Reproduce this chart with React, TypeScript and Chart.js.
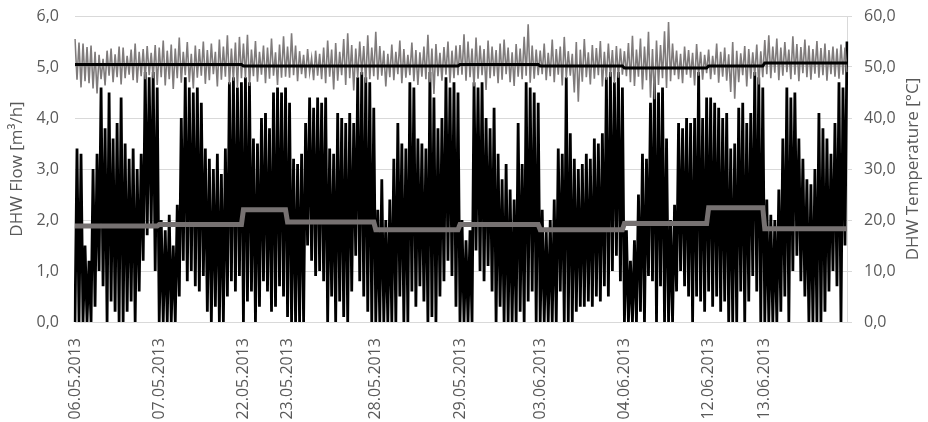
import React, { useEffect, useRef } from 'react';
import { Chart, registerables } from 'chart.js';

Chart.register(...registerables);

// Day labels shown on the category axis (first sample of each day)
const dayLabels = ['06.05.2013', '07.05.2013', '22.05.2013', '23.05.2013', '28.05.2013',
  '29.05.2013', '03.06.2013', '04.06.2013', '12.06.2013', '13.06.2013'];

// DHW flow [m³/h] – sampled peaks and troughs, one row per day
const flowHighByDay = [
  [3.4, 3.3, 1.5, 1.2, 3.0, 3.3, 4.6, 3.8, 4.5, 3.6, 3.9, 4.4, 3.5, 3.2, 3.4, 3.0, 3.3, 4.9, 4.8, 4.9, 4.6],
  [2.0, 1.8, 2.1, 1.5, 2.3, 4.0, 4.8, 4.6, 4.5, 4.6, 4.3, 3.4, 3.2, 3.0, 3.3, 2.9, 3.4, 4.7, 4.8, 4.6, 4.7],
  [4.8, 4.7, 3.6, 3.5, 4.0, 4.1, 3.8, 4.5, 4.6, 4.5, 4.6],
  [4.3, 3.2, 3.1, 3.3, 3.9, 4.4, 4.2, 4.4, 4.3, 4.4, 3.4, 3.3, 4.1, 4.0, 3.9, 4.1, 3.9, 4.8, 4.9, 4.8, 4.7, 4.2],
  [2.2, 2.8, 2.0, 2.4, 3.2, 3.9, 3.5, 3.4, 4.7, 4.6, 3.6, 3.5, 3.4, 4.9, 4.4, 3.8, 4.0, 4.8, 4.6, 4.7, 4.5],
  [2.0, 1.6, 1.8, 4.7, 4.6, 4.7, 4.0, 3.8, 4.2, 3.3, 2.8, 3.1, 2.6, 2.4, 3.9, 3.1, 4.7, 4.6, 4.5, 4.3],
  [2.2, 1.8, 2.0, 2.4, 3.4, 3.3, 4.8, 3.7, 3.2, 3.0, 3.1, 3.3, 3.2, 3.6, 3.5, 3.7, 4.8, 4.9, 4.7, 4.9, 4.6],
  [1.8, 1.2, 1.6, 2.5, 3.3, 3.2, 4.3, 4.8, 4.5, 4.6, 3.6, 2.0, 2.3, 3.9, 3.8, 4.0, 3.9, 4.0, 4.9, 4.0, 4.4],
  [4.4, 4.3, 4.2, 4.0, 4.1, 3.4, 3.5, 4.2, 4.3, 3.9, 4.1, 4.9, 4.8, 4.6],
  [2.4, 2.1, 2.0, 2.6, 3.6, 4.6, 4.4, 4.5, 3.6, 3.2, 2.8, 2.7, 3.0, 4.1, 3.8, 3.6, 3.3, 3.9, 4.7, 4.6, 5.5],
];
const flowLowByDay = [
  [0, 0, 0, 0, 0, 0.3, 1.0, 0.7, 0, 0.4, 0.2, 0, 0, 0.2, 0.4, 0, 0.6, 1.2, 1.7, 1.9, 1.0],
  [0, 0, 0, 0, 0, 0.5, 1.2, 0.8, 1.0, 0.7, 0.6, 0.9, 0.2, 0, 0.3, 0, 0, 0.5, 0.8, 0.6, 0.9],
  [0, 0.4, 0.6, 0, 0.3, 0.8, 0.6, 0.2, 0.3, 0.7, 0.5],
  [0.1, 0, 0, 0, 0, 1.5, 1.2, 0.9, 1.0, 0.8, 0, 0.5, 0, 0.4, 0.1, 0, 0.6, 1.3, 0.8, 0.5, 0.2, 0],
  [0, 0, 0, 0, 0, 0, 0.5, 0, 0, 0.6, 0.3, 0.7, 0.4, 0, 0.1, 0, 0.5, 0.8, 1.2, 0.9, 0.3],
  [0, 0, 0, 0, 1.4, 1.0, 0.8, 1.1, 0.6, 0, 0.3, 0, 0, 0, 0, 0.2, 0, 0.4, 0.6, 0],
  [0, 0, 0, 0, 0, 0.6, 0, 0, 0, 0.2, 0.3, 0.3, 0.4, 0.3, 0.5, 0.4, 0.7, 0.5, 1.0, 1.3, 0.8],
  [0, 0, 0, 0, 0.2, 0, 0.9, 0.8, 0, 0.7, 0, 0, 0, 0.6, 1.0, 0.7, 0.5, 0, 0.5, 0.4, 0.2],
  [0.6, 0.3, 0.5, 0.2, 0.4, 0, 0, 0, 0.6, 0, 0.4, 0.9, 0.6, 0],
  [0, 0, 0, 0, 0.2, 0.5, 0, 1.0, 1.3, 0.8, 0.5, 0, 0, 0, 0, 0.2, 0.6, 1.0, 0.7, 0, 1.5],
];

// DHW temperature [°C] – sampled peaks and troughs, one row per day
const tempHighByDay = [
  [55.5, 54.8, 54.6, 53.9, 54.2, 53.0, 52.4, 51.6, 53.2, 53.6, 52.5, 54.0, 53.8, 52.2, 53.4, 54.6, 53.0, 53.5, 54.1, 52.8, 54.3],
  [53.8, 55.2, 53.2, 54.4, 53.6, 55.8, 53.0, 54.9, 52.6, 54.2, 53.5, 55.0, 53.3, 54.6, 53.0, 55.4, 54.0, 56.2, 53.6, 54.8, 55.9],
  [54.6, 56.3, 53.4, 55.1, 53.0, 54.2, 53.8, 55.6, 52.9, 54.4, 56.0],
  [54.0, 56.6, 54.2, 53.1, 52.4, 53.5, 51.8, 53.2, 52.6, 53.8, 55.2, 53.4, 54.7, 53.0, 55.5, 56.6, 54.3, 53.6, 55.0, 54.1, 56.2, 53.8],
  [56.9, 54.1, 53.2, 52.6, 54.4, 53.0, 55.2, 53.5, 52.4, 54.8, 53.3, 52.9, 54.0, 56.3, 53.6, 54.5, 52.8, 53.9, 55.0, 53.2, 54.2],
  [54.3, 56.4, 55.0, 53.6, 55.8, 54.2, 53.5, 55.2, 54.0, 53.3, 54.6, 55.4, 53.8, 52.9, 54.5, 53.6, 55.9, 58.4, 54.2, 53.4],
  [53.2, 54.6, 52.8, 55.4, 53.5, 54.0, 55.9, 53.1, 52.6, 54.9, 53.4, 55.5, 52.9, 54.3, 53.7, 55.1, 53.0, 54.6, 53.3, 54.1, 53.6],
  [53.1, 54.7, 56.1, 53.4, 55.6, 54.0, 56.9, 53.5, 55.2, 54.3, 57.0, 58.8, 54.6, 53.2, 52.6, 54.0, 53.3, 52.8, 54.5, 53.0, 52.4],
  [53.4, 52.2, 54.6, 53.0, 53.8, 52.5, 54.9, 53.2, 52.7, 54.1, 53.5, 52.9, 54.4, 53.1],
  [55.3, 56.2, 54.0, 55.6, 53.8, 54.9, 53.4, 56.0, 54.5, 53.9, 55.4, 54.2, 53.5, 55.1, 53.7, 54.6, 53.3, 54.0, 53.6, 54.4, 53.8],
];
const tempLowByDay = [
  [47.5, 46.0, 47.2, 46.8, 45.8, 44.8, 47.6, 46.4, 48.3, 47.0, 48.0, 46.6, 47.8, 48.5, 47.4, 46.9, 48.2, 47.6, 48.4, 47.8, 46.5],
  [48.0, 46.4, 47.6, 45.7, 47.8, 46.9, 48.4, 47.0, 45.8, 47.9, 48.3, 46.7, 47.4, 48.6, 46.2, 47.5, 48.1, 46.6, 47.3, 45.9, 47.8],
  [47.8, 46.3, 48.2, 47.1, 48.5, 46.8, 47.7, 48.3, 46.5, 47.9, 48.1],
  [47.9, 48.4, 47.2, 48.6, 47.8, 48.9, 47.4, 48.3, 47.6, 46.8, 48.1, 45.6, 47.3, 48.4, 46.5, 47.8, 45.4, 47.9, 48.5, 46.9, 47.6, 48.2],
  [47.5, 48.3, 46.2, 48.0, 47.4, 48.6, 46.8, 47.9, 48.4, 47.2, 46.5, 48.1, 47.6, 47.0, 44.7, 48.2, 47.3, 48.5, 46.9, 47.8, 48.4],
  [48.5, 47.3, 48.0, 46.2, 47.7, 48.4, 45.5, 47.8, 48.2, 46.8, 47.5, 48.6, 47.0, 46.3, 48.1, 47.6, 48.3, 46.9, 47.7, 48.4],
  [48.6, 47.4, 48.2, 47.0, 48.5, 46.4, 47.8, 48.3, 45.0, 43.2, 47.1, 48.0, 46.6, 47.7, 48.4, 46.2, 47.5, 48.1, 46.8, 47.9, 48.5],
  [48.2, 47.0, 46.3, 48.1, 45.6, 47.4, 44.0, 43.7, 46.5, 47.8, 45.9, 47.2, 48.4, 47.6, 46.8, 48.5, 47.9, 46.4, 48.3, 47.5, 48.8],
  [47.6, 48.5, 46.9, 48.1, 47.3, 45.1, 43.8, 47.0, 48.4, 46.2, 47.7, 48.3, 46.6, 48.0],
  [48.6, 47.8, 48.9, 47.4, 48.3, 49.0, 47.6, 48.5, 47.2, 48.8, 48.0, 47.5, 48.7, 47.9, 48.4, 47.3, 48.6, 48.1, 47.7, 48.5, 49.0],
];

// Daily mean values (step lines)
const flowMeanByDay = [1.88, 1.91, 2.20, 1.96, 1.81, 1.91, 1.81, 1.93, 2.24, 1.83];
const tempMeanByDay = [50.5, 50.5, 50.2, 50.2, 50.2, 50.5, 50.2, 49.8, 50.2, 50.8];

const leftTitle = 'DHW Flow [m³/h]';
const rightTitle = 'DHW Temperature [°C]';

const FONT = '"Open Sans", "DejaVu Sans", sans-serif';
const TEXT = '#595959';

function buildSeries() {
  const labels: string[] = [];
  const flow: number[] = [];
  const temp: number[] = [];
  const flowMean: number[] = [];
  const tempMean: number[] = [];
  dayLabels.forEach((lab, d) => {
    flowHighByDay[d].forEach((h, j) => {
      labels.push(j === 0 ? lab : '');
      flow.push(flowLowByDay[d][j]);
      temp.push(tempHighByDay[d][j]);
      flowMean.push(flowMeanByDay[d]);
      tempMean.push(tempMeanByDay[d]);
      labels.push('');
      flow.push(h);
      temp.push(tempLowByDay[d][j]);
      flowMean.push(flowMeanByDay[d]);
      tempMean.push(tempMeanByDay[d]);
    });
  });
  return { labels, flow, temp, flowMean, tempMean };
}

const titlePlugin = {
  id: 'axisTitles',
  afterDraw(chart: any) {
    const ctx = chart.ctx;
    const { top, bottom } = chart.chartArea;
    const cy = (top + bottom) / 2;
    const draw = (text: string, x: number) => {
      ctx.save();
      ctx.fillStyle = TEXT;
      ctx.font = '17px ' + FONT;
      ctx.textAlign = 'center';
      ctx.textBaseline = 'middle';
      ctx.translate(x, cy);
      ctx.rotate(-Math.PI / 2);
      ctx.fillText(text, 0, 0);
      ctx.restore();
    };
    draw(leftTitle, 17);
    draw(rightTitle, 913);
  },
};

const fmt = (v: any) => Number(v).toFixed(1).replace('.', ',');

export default function App() {
  const ref = useRef<HTMLCanvasElement | null>(null);
  useEffect(() => {
    if (!ref.current) return;
    const s = buildSeries();
    const chart = new Chart(ref.current, {
      type: 'line',
      data: {
        labels: s.labels,
        datasets: [
          { label: 'tempMean', data: s.tempMean, yAxisID: 'y1', borderColor: '#000000', borderWidth: 3, pointRadius: 0, order: 0 },
          { label: 'flowMean', data: s.flowMean, yAxisID: 'y', borderColor: '#767171', borderWidth: 5, pointRadius: 0, order: 1 },
          { label: 'temp', data: s.temp, yAxisID: 'y1', borderColor: '#7f7b7b', borderWidth: 1.6, pointRadius: 0, order: 2 },
          { label: 'flow', data: s.flow, yAxisID: 'y', borderColor: '#000000', borderWidth: 2.8, pointRadius: 0, order: 3 },
        ],
      },
      options: {
        responsive: false,
        maintainAspectRatio: false,
        animation: false,
        layout: { padding: { top: 16, left: 0, right: 0, bottom: 0 } },
        plugins: { legend: { display: false }, tooltip: { enabled: false } },
        elements: { line: { tension: 0, borderJoinStyle: 'miter', borderCapStyle: 'butt' } },
        scales: {
          x: {
            type: 'category',
            grid: { display: false },
            border: { display: false },
            ticks: {
              autoSkip: false,
              maxRotation: 90,
              minRotation: 90,
              padding: 8,
              color: TEXT,
              font: { family: FONT, size: 16 },
            },
            afterFit: (sc: any) => { sc.height = 100; sc.paddingLeft = 0; sc.paddingRight = 0; },
          },
          y: {
            position: 'left',
            min: 0,
            max: 6,
            ticks: { stepSize: 1, padding: 16, color: TEXT, font: { family: FONT, size: 16 }, callback: fmt },
            grid: { color: '#d9d9d9', drawTicks: false },
            border: { display: false },
            afterFit: (sc: any) => { sc.width = 75; sc.paddingTop = 0; sc.paddingBottom = 0; },
          },
          y1: {
            position: 'right',
            min: 0,
            max: 60,
            ticks: { stepSize: 10, padding: 12, color: TEXT, font: { family: FONT, size: 16 }, callback: fmt },
            grid: { drawOnChartArea: false, color: '#d9d9d9', tickLength: 5 },
            border: { display: true, color: '#d9d9d9' },
            afterFit: (sc: any) => { sc.width = 81; sc.paddingTop = 0; sc.paddingBottom = 0; },
          },
        },
      },
      plugins: [titlePlugin],
    });
    return () => chart.destroy();
  }, []);
  return (
    <div style={{ position: 'fixed', left: 0, top: 0, width: 928, height: 422, background: '#ffffff' }}>
      <canvas ref={ref} width={928} height={422} style={{ display: 'block' }} />
    </div>
  );
}
